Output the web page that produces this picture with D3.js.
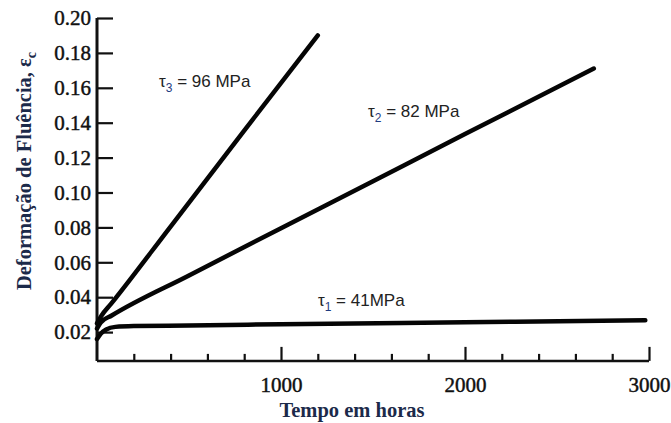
<!DOCTYPE html>
<html>
<head>
<meta charset="utf-8">
<script src="https://cdn.jsdelivr.net/npm/d3@7"></script>
<style>
  body { margin: 0; background: #fff; }
  svg { display: block; }
  .tick text { font-family: "Liberation Serif", serif; font-size: 21px; fill: #111; stroke: #111; stroke-width: 0.45; }
  .axis path.domain { display: none; }
  .axis line { stroke: #111; stroke-width: 2.2; }
  .curve { fill: none; stroke: #050505; stroke-width: 4.5; stroke-linecap: round; stroke-linejoin: round; }
  .note { font-family: "Liberation Sans", Arial, sans-serif; font-size: 17px; fill: #222; }
  .note .sub { font-size: 12px; fill: #1f3b80; }
  .title { font-family: "Liberation Serif", serif; font-size: 20.5px; font-weight: bold; fill: #1c2a4a; }
</style>
</head>
<body>
<div id="chart"></div>
<script>
// creep curves (hours, strain)
var t1Hours = [0, 20, 50, 100, 200, 500, 1000, 2000, 2980];
var t1Strain = [0.0160, 0.0190, 0.0215, 0.0230, 0.0235, 0.0238, 0.0245, 0.0256, 0.0268];

var t2Hours = [0, 20, 80, 500, 1000, 1500, 2000, 2700];
var t2Strain = [0.0220, 0.0255, 0.0295, 0.0525, 0.0795, 0.1065, 0.1335, 0.1710];

var t3Hours = [0, 25, 75, 400, 800, 1200];
var t3Strain = [0.0250, 0.0295, 0.0360, 0.0805, 0.1355, 0.1900];

var labelMain = ["τ", "τ", "τ"];
var labelSub = ["1", "2", "3"];
var labelRest = [" = 41MPa", " = 82 MPa", " = 96 MPa"];
// label anchors in data units (hours, strain)
var labelHours = [1201, 1473, 337];
var labelStrain = [0.0349, 0.1432, 0.1604];

var xMajor = [1000, 2000, 3000];
var xMinor = d3.range(200, 3000, 200).filter(function (d) { return d % 1000 != 0; });
var yTicks = [0.02, 0.04, 0.06, 0.08, 0.10, 0.12, 0.14, 0.16, 0.18, 0.20];

const width = 671;
const height = 423;

const svg = d3.select("#chart").append("svg")
  .attr("width", width)
  .attr("height", height);

const x = d3.scaleLinear().domain([0, 3000]).range([97, 649]);
const y = d3.scaleLinear().domain([0, 0.2]).range([367, 18]);
const axisY = y(0.0035);

// x axis: minor ticks then major ticks with labels, all pointing inward
svg.append("g")
  .attr("class", "axis")
  .attr("transform", "translate(0," + axisY + ")")
  .call(d3.axisBottom(x).tickValues(xMinor).tickSize(-7).tickFormat(""));

svg.append("g")
  .attr("class", "axis")
  .attr("transform", "translate(0," + axisY + ")")
  .call(d3.axisBottom(x).tickValues(xMajor).tickSize(-14).tickPadding(16).tickFormat(d3.format("d")));

svg.append("g")
  .attr("class", "axis")
  .attr("transform", "translate(" + x(0) + ",0)")
  .call(d3.axisLeft(y).tickValues(yTicks).tickSize(-16).tickPadding(6).tickFormat(d3.format(".2f")));

// axis lines
svg.append("line")
  .attr("x1", x(0)).attr("x2", x(3000))
  .attr("y1", axisY).attr("y2", axisY)
  .attr("stroke", "#111").attr("stroke-width", 2.5);

svg.append("line")
  .attr("x1", x(0)).attr("x2", x(0))
  .attr("y1", y(0.2)).attr("y2", axisY)
  .attr("stroke", "#111").attr("stroke-width", 3);

var line = d3.line()
  .x(function (d) { return x(d[0]); })
  .y(function (d) { return y(d[1]); })
  .curve(d3.curveMonotoneX);

[[t1Hours, t1Strain], [t2Hours, t2Strain], [t3Hours, t3Strain]].forEach(function (s) {
  svg.append("path")
    .datum(d3.zip(s[0], s[1]))
    .attr("class", "curve")
    .attr("d", line);
});

labelMain.forEach(function (m, i) {
  var t = svg.append("text")
    .attr("class", "note")
    .attr("x", x(labelHours[i]))
    .attr("y", y(labelStrain[i]));
  t.append("tspan").text(m);
  t.append("tspan").attr("class", "sub").attr("dy", 5).text(labelSub[i]);
  t.append("tspan").attr("dy", -5).text(labelRest[i]);
});

// axis titles
svg.append("text")
  .attr("class", "title")
  .attr("x", 352)
  .attr("y", 417)
  .attr("text-anchor", "middle")
  .text("Tempo em horas");

var yt = svg.append("text")
  .attr("class", "title")
  .attr("transform", "translate(31,171) rotate(-90)")
  .attr("text-anchor", "middle");
yt.append("tspan").text("Deformação de Fluência, ε");
yt.append("tspan").attr("dy", 5).attr("font-size", 14).text("c");
</script>
</body>
</html>
